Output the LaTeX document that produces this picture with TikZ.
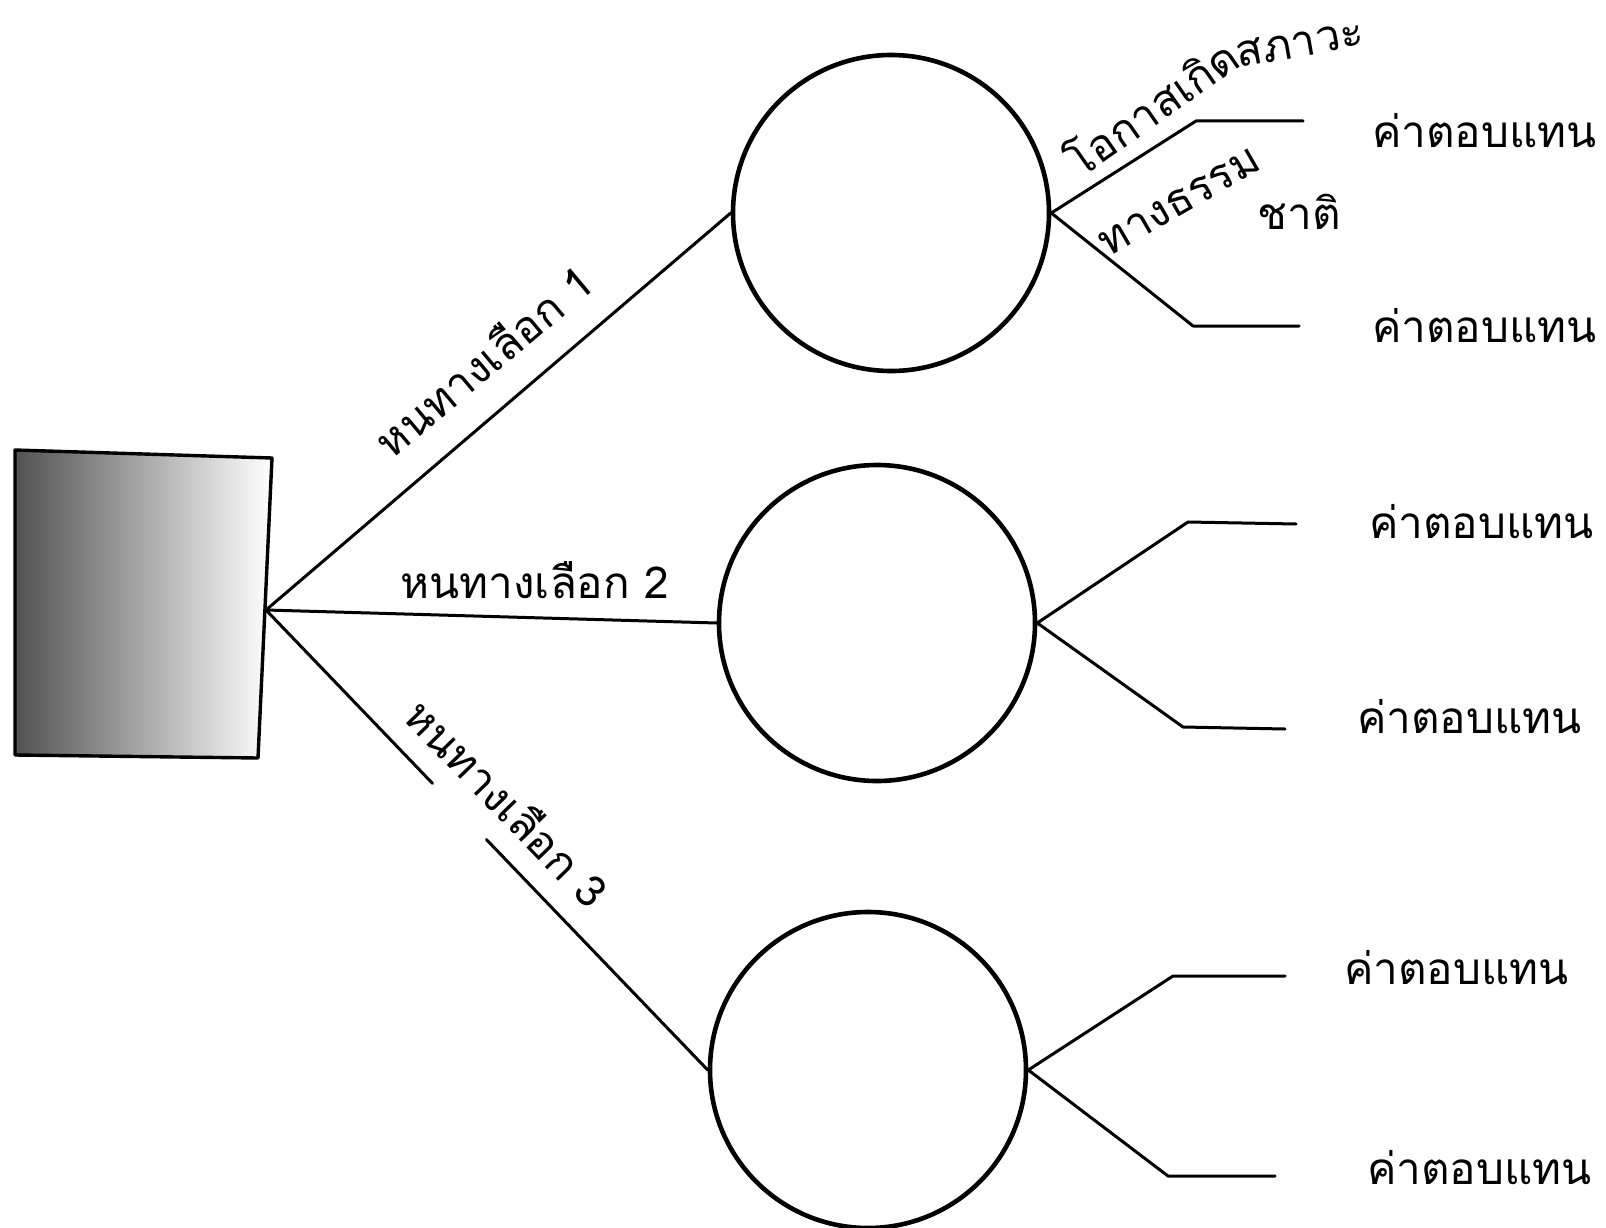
\documentclass[tikz,border=0pt]{standalone}
\usepackage{fontspec}
\newfontfamily\thaifont[Script=Thai]{Loma}
\usetikzlibrary{calc}
\begin{document}
\begin{tikzpicture}[x=1pt,y=-1pt,
  lbl/.style={font=\thaifont\fontsize{44}{50}\selectfont, inner sep=0pt},
  chance/.style={circle, draw, line width=4.6pt, minimum size=316pt, inner sep=0pt},
  conn/.style={line width=3pt, line cap=round, line join=round}]
\useasboundingbox (0,0) rectangle (1606,1228);
\fill[white] (0,0) rectangle (1606,1228);
% decision square
\shade[left color=black!68, middle color=black!25, right color=white]
  (15,450) -- (272,458) -- (258,758) -- (15,755) -- cycle;
\draw[line width=3.4pt, line join=round] (15,450) -- (272,458) -- (258,758) -- (15,755) -- cycle;
\coordinate (d) at (266,610);
% chance circles
\node[chance] (c1) at (891,213) {};
\node[chance] (c2) at (877,623) {};
\node[chance] (c3) at (868,1070) {};
% alternatives
\draw[conn] (d) -- (c1.west);
\draw[conn] (d) -- (c2.west);
\coordinate (g1) at ($(d)!0.377!(c3.west)$);
\coordinate (g2) at ($(d)!0.499!(c3.west)$);
\draw[conn] (d) -- (g1);
\draw[conn] (g2) -- (c3.west);
\node[lbl, rotate=40] (a1) at (483,360) {หนทางเลือก 1};
\node[lbl] (a2) at (535,580) {หนทางเลือก 2};
\node[lbl, rotate=-46] (a3) at (508,802) {หนทางเลือก 3};
% outcome branches
\coordinate (u1) at (1196,121); \coordinate (u1e) at (1303,121);
\coordinate (l1) at (1193,326); \coordinate (l1e) at (1299,326);
\coordinate (u2) at (1188,522); \coordinate (u2e) at (1296,524);
\coordinate (l2) at (1183,727); \coordinate (l2e) at (1285,729);
\coordinate (u3) at (1173,976); \coordinate (u3e) at (1285,976);
\coordinate (l3) at (1168,1176); \coordinate (l3e) at (1275,1176);
\foreach \c/\p in {c1/u1,c1/l1,c2/u2,c2/l2,c3/u3,c3/l3}
  \draw[conn] (\c.east) -- (\p) -- (\p e);
% payoffs
\node[lbl, anchor=west] (p1) at (1372,131) {ค่าตอบแทน};
\node[lbl, anchor=west] (p2) at (1372,326) {ค่าตอบแทน};
\node[lbl, anchor=west] (p3) at (1369,522) {ค่าตอบแทน};
\node[lbl, anchor=west] (p4) at (1357,717) {ค่าตอบแทน};
\node[lbl, anchor=west] (p5) at (1344,968) {ค่าตอบแทน};
\node[lbl, anchor=west] (p6) at (1367,1168) {ค่าตอบแทน};
% state-of-nature label
\node[lbl, rotate=35] (s1) at (1150,106) {โอกาสเกิด};
\node[lbl, rotate=10] (s2) at (1300,44) {สภาวะ};
\node[lbl, rotate=30] (s3) at (1180,202) {ทางธรรม};
\node[lbl] (s4) at (1299,212) {ชาติ};
\end{tikzpicture}
\end{document}
